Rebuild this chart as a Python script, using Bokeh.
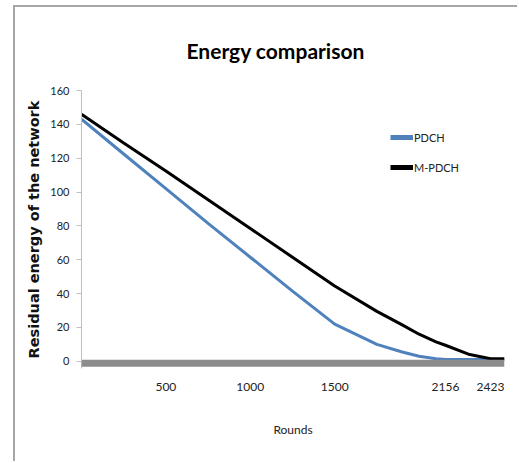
from bokeh.plotting import figure
from bokeh.models import Range1d, FixedTicker, Span, Legend, LegendItem
from bokeh.embed import file_html
from bokeh.resources import INLINE

# ---- data ----
rounds = [0, 250, 500, 750, 1000, 1250, 1500, 1750, 1900, 2000, 2100, 2156, 2300, 2423, 2506]
pdch = [143, 122.5, 102, 81.5, 61.5, 41.5, 22, 10, 5.5, 3, 1.5, 1, 1, 1, 1]
mpdch = [146, 129, 112.5, 95.5, 78.5, 61.5, 44.5, 29.5, 21.5, 16, 11.5, 9.5, 4, 1.5, 1.5]
x_ticks = [500, 1000, 1500, 2156, 2423]
y_ticks = [0, 20, 40, 60, 80, 100, 120, 140, 160]
series_names = ["PDCH", "M-PDCH"]
series_colors = ["#4f81bd", "#000000"]

FONT = "Lato"

p = figure(width=504, height=456, output_backend="svg", toolbar_location=None,
           x_range=Range1d(0, 2506), y_range=Range1d(-4.25, 160),
           min_border_left=66, min_border_right=15, min_border_top=83, min_border_bottom=95,
           margin=(5, 0, 0, 13),
           styles={"border-left": "2px solid #a6a6a6", "border-top": "2px solid #a6a6a6"})
p.outline_line_color = None
p.background_fill_color = "white"
p.border_fill_color = "white"
p.xgrid.grid_line_color = None
p.ygrid.grid_line_color = None

# title
p.title.text = "Energy comparison"
p.title.align = "left"
p.title.offset = 105
p.title.standoff = 55
p.title.text_font = FONT
p.title.text_font_style = "bold"
p.title.text_font_size = "21px"
p.title.text_color = "#000000"

# x axis
p.xaxis.ticker = FixedTicker(ticks=x_ticks)
p.xaxis.axis_line_color = None
p.xaxis.major_tick_line_color = None
p.xaxis.minor_tick_line_color = None
p.xaxis.major_label_standoff = 8
p.xaxis.major_label_text_font = FONT
p.xaxis.major_label_text_font_size = "12px"
p.xaxis.major_label_text_color = "#222222"
p.xaxis.axis_label = "Rounds"
p.xaxis.axis_label_standoff = 28
p.xaxis.axis_label_text_font = FONT
p.xaxis.axis_label_text_font_style = "normal"
p.xaxis.axis_label_text_font_size = "12px"
p.xaxis.axis_label_text_color = "#222222"

# y axis
p.yaxis.ticker = FixedTicker(ticks=y_ticks)
p.yaxis.axis_line_color = "#bfbfbf"
p.yaxis.major_tick_line_color = "#bfbfbf"
p.yaxis.major_tick_out = 5
p.yaxis.major_tick_in = 0
p.yaxis.minor_tick_line_color = None
p.yaxis.major_label_standoff = 7
p.yaxis.major_label_text_font = FONT
p.yaxis.major_label_text_font_size = "11px"
p.yaxis.major_label_text_color = "#222222"
p.yaxis.axis_label = "Residual energy of the network"
p.yaxis.axis_label_standoff = 5
p.yaxis.axis_label_text_font = "DejaVu Sans"
p.yaxis.axis_label_text_font_style = "bold"
p.yaxis.axis_label_text_font_size = "14.5px"
p.yaxis.axis_label_text_color = "#111111"

# thick horizontal axis band at zero
p.add_layout(Span(location=-1.2, dimension="width", line_color="#8c8c8c", line_width=7))

r1 = p.line(rounds, pdch, line_color=series_colors[0], line_width=3)
r2 = p.line(rounds, mpdch, line_color=series_colors[1], line_width=3)
# legend-only renderers (thicker legend keys)
l1 = p.line(rounds, pdch, line_color=series_colors[0], line_width=5, visible=False)
l2 = p.line(rounds, mpdch, line_color=series_colors[1], line_width=5, visible=False)

legend = Legend(items=[LegendItem(label=series_names[0], renderers=[l1]),
                       LegendItem(label=series_names[1], renderers=[l2])],
                location=(309, 191), orientation="vertical",
                glyph_width=23, glyph_height=20, label_height=20, label_standoff=1,
                spacing=10, padding=0, margin=0,
                border_line_color=None, background_fill_alpha=0,
                label_text_font=FONT, label_text_font_size="11px",
                label_text_color="#222222", label_text_baseline="middle")
p.add_layout(legend)

open("out.html", "w").write(file_html(p, INLINE))
